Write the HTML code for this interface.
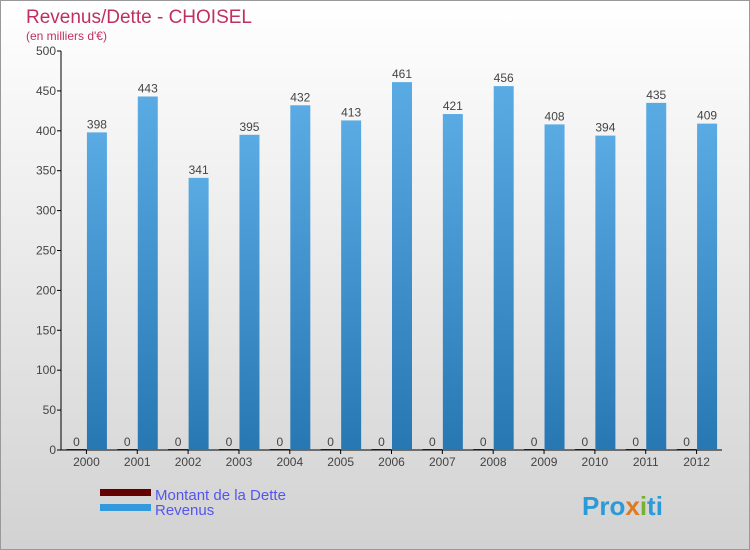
<!DOCTYPE html>
<html><head><meta charset="utf-8"><style>
body{margin:0}
svg{display:block;font-family:"Liberation Sans","DejaVu Sans",sans-serif}
</style></head><body>
<svg id="c" width="750" height="550" xmlns="http://www.w3.org/2000/svg">
<defs>
<linearGradient id="bg" x1="0" y1="0" x2="0" y2="1"><stop offset="0" stop-color="#ffffff"/><stop offset="1" stop-color="#d2d2d2"/></linearGradient>
<linearGradient id="bb" x1="0" y1="0" x2="0" y2="1"><stop offset="0" stop-color="#5aabe4"/><stop offset="1" stop-color="#2777b3"/></linearGradient>
</defs>
<rect x="0.5" y="0.5" width="749" height="549" fill="url(#bg)" stroke="#999"/>
<text x="26" y="23" font-size="19" fill="#c0305f">Revenus/Dette - CHOISEL</text>
<text x="26" y="40" font-size="12" fill="#c0305f">(en milliers d'€)</text>
<g id="axes"></g>
<g id="bars"></g>
<g>
<rect x="100" y="489" width="51" height="7" fill="#650000"/>
<text x="155" y="500" font-size="15" fill="#5555ee">Montant de la Dette</text>
<rect x="100" y="504" width="51" height="7" fill="#3399dd"/>
<text x="155" y="515" font-size="15" fill="#5555ee">Revenus</text>
</g>
<text x="582" y="515" font-size="26" font-weight="bold" fill="#2a9ad8">Pro<tspan fill="#e07a20">x</tspan><tspan fill="#7ab030">i</tspan>ti</text>
</svg>
<script>
const years=["2000","2001","2002","2003","2004","2005","2006","2007","2008","2009","2010","2011","2012"];
const revenus=[398,443,341,395,432,413,461,421,456,408,394,435,409];
const dette=[0,0,0,0,0,0,0,0,0,0,0,0,0];
const yTicks=[0,50,100,150,200,250,300,350,400,450,500];
const NS="http://www.w3.org/2000/svg";
const x0=61,x1=722,y0=450,yTop=51,vMax=500;
const step=(x1-x0)/years.length;
const y=v=>y0-(v/vMax)*(y0-yTop);
const cx=i=>x0+step*(i+0.5);
function mk(tag,attrs,parent){const e=document.createElementNS(NS,tag);for(const k in attrs)e.setAttribute(k,attrs[k]);parent.appendChild(e);return e;}
const ax=document.getElementById('axes'),bars=document.getElementById('bars');
let l=mk('line',{x1:x0,y1:yTop,x2:x0,y2:y0,stroke:'#000'},ax);


l=mk('line',{x1:x0,y1:y0,x2:x1,y2:y0,stroke:'#000'},ax);


yTicks.forEach(t=>{
 const tk=mk('line',{x1:x0-4,y1:y(t),x2:x0,y2:y(t),stroke:'#000'},ax);
 
 
 const tx=mk('text',{x:x0-5,y:y(t)+4,'font-size':12,'text-anchor':'end',fill:'#444'},ax);
 tx.textContent=t;
 
 
});
years.forEach((yr,i)=>{
 const c=cx(i);
 const tx=mk('text',{x:c,y:466,'font-size':12,'text-anchor':'middle',fill:'#444'},ax);
 tx.textContent=yr;
 
 
 const tk=mk('line',{x1:c,y1:y0,x2:c,y2:y0+4,stroke:'#000'},ax);
 
 
 const d=mk('rect',{x:c-20,y:y(dette[i])-1,width:20,height:Math.max(1,y0-y(dette[i])),fill:'#650000'},bars);
 
 
 const dl=mk('text',{x:c-10,y:y(dette[i])-4,'font-size':12,'text-anchor':'middle',fill:'#444'},bars);
 dl.textContent=dette[i];
 
 
 const b=mk('rect',{x:c+0.5,y:y(revenus[i]),width:20,height:y0-y(revenus[i]),fill:'url(#bb)'},bars);
 
 
 const bl=mk('text',{x:c+10.5,y:y(revenus[i])-4,'font-size':12,'text-anchor':'middle',fill:'#444'},bars);
 bl.textContent=revenus[i];
 
 
});
</script>
</body></html>
